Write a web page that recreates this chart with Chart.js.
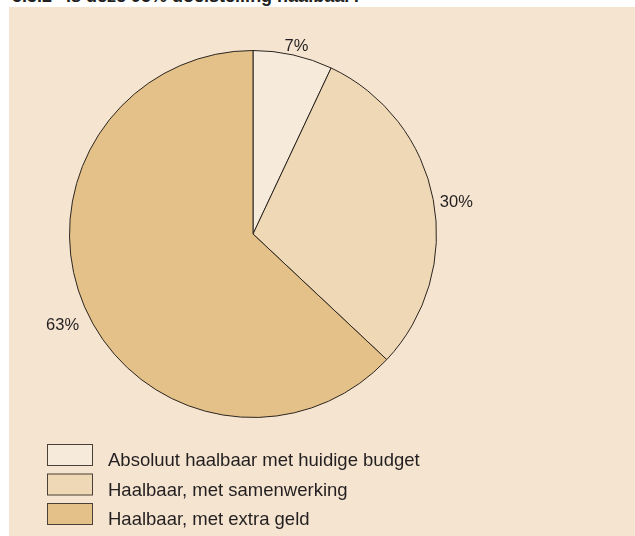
<!DOCTYPE html>
<html>
<head>
<meta charset="utf-8">
<script src="https://cdn.jsdelivr.net/npm/chart.js@4/dist/chart.umd.min.js"></script>
<style>
  html, body { margin: 0; padding: 0; background: #ffffff; }
  body { width: 635px; height: 536px; position: relative; overflow: hidden; font-family: "Liberation Sans", Arial, sans-serif; }
  #heading { position: absolute; left: 12px; top: -13px; font-weight: bold; font-size: 18px; color: #231f20; white-space: nowrap; line-height: 18px; }
  #heading .num { margin-right: 14px; }
  #panel { position: absolute; left: 9px; top: 7px; width: 626px; height: 529px; background: #f4e4d0; }
  canvas { display: block; }
</style>
</head>
<body>
<div id="heading"><span class="num">5.3.2</span>Is deze 95% doelstelling haalbaar?</div>
<div id="panel"><canvas id="chart" width="626" height="529"></canvas></div>
<script>
const categories = [
  'Absoluut haalbaar met huidige budget',
  'Haalbaar, met samenwerking',
  'Haalbaar, met extra geld'
];
const shares = [7, 30, 63];
const percentLabels = ['7%', '30%', '63%'];
const sliceColors = ['#f6eadb', '#efd8b5', '#e4c189'];

const TEXT = '#231f20';
const EDGE = '#2b2520';

// Percentage labels placed just outside each slice
const outerLabels = {
  id: 'outerLabels',
  afterDatasetsDraw(chart) {
    const ctx = chart.ctx;
    const meta = chart.getDatasetMeta(0);
    ctx.save();
    ctx.font = '16.5px "Liberation Sans", Arial, sans-serif';
    ctx.fillStyle = TEXT;
    ctx.textAlign = 'center';
    ctx.textBaseline = 'middle';
    meta.data.forEach((arc, i) => {
      const p = arc.getProps(['x', 'y', 'startAngle', 'endAngle', 'outerRadius'], true);
      const mid = (p.startAngle + p.endAngle) / 2;
      const txt = percentLabels[i];
      const hw = ctx.measureText(txt).width / 2;
      const hh = 7;
      const c = Math.cos(mid), s = Math.sin(mid);
      const d = p.outerRadius + 6 + Math.abs(c) * hw + Math.abs(s) * hh;
      ctx.fillText(txt, p.x + c * d, p.y + s * d + 7 + Math.max(0, s) * 6);
    });
    ctx.restore();
  }
};

// Stacked legend with boxed swatches in the lower left
const boxLegend = {
  id: 'boxLegend',
  afterDraw(chart) {
    const ctx = chart.ctx;
    ctx.save();
    ctx.font = '18.5px "Liberation Sans", Arial, sans-serif';
    ctx.textBaseline = 'alphabetic';
    categories.forEach((name, i) => {
      const y = 437 + i * 29.5;
      ctx.fillStyle = sliceColors[i];
      ctx.fillRect(38, y, 46, 22);
      ctx.strokeStyle = '#4a4038';
      ctx.lineWidth = 1;
      ctx.strokeRect(38.5, y + 0.5, 45, 21);
      ctx.fillStyle = TEXT;
      ctx.fillText(name, 99, y + 22);
    });
    ctx.restore();
  }
};

new Chart(document.getElementById('chart'), {
  type: 'pie',
  data: {
    labels: categories,
    datasets: [{
      data: shares,
      backgroundColor: sliceColors,
      borderColor: EDGE,
      borderWidth: 1,
      borderAlign: 'center'
    }]
  },
  options: {
    responsive: false,
    animation: false,
    layout: { padding: { left: 60, top: 43, right: 198, bottom: 118 } },
    plugins: {
      legend: { display: false },
      tooltip: { enabled: false },
      title: { display: false }
    }
  },
  plugins: [outerLabels, boxLegend]
});
</script>
</body>
</html>
